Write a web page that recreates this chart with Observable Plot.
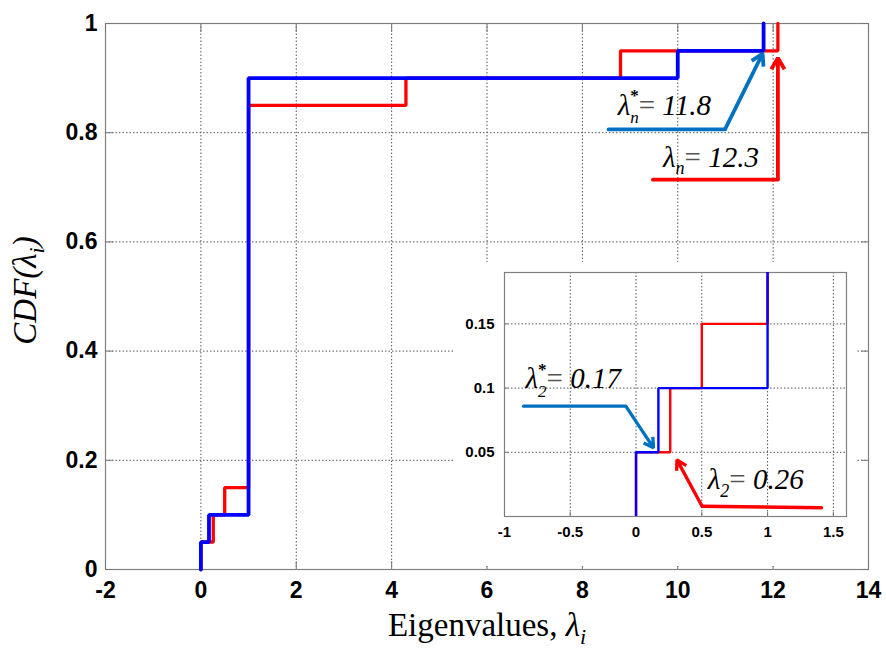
<!DOCTYPE html>
<html><head><meta charset="utf-8">
<script src="https://cdn.jsdelivr.net/npm/d3@7"></script>
<script src="https://cdn.jsdelivr.net/npm/@observablehq/plot@0.6"></script>
<style>
html,body{margin:0;padding:0;background:#fff;}
#wrap{position:relative;width:886px;height:658px;overflow:hidden;background:#fff;}
#inset{position:absolute;left:455px;top:262px;}
text{white-space:pre;}
</style></head><body>
<div id="wrap"><div id="main"></div><div id="inset"></div></div>
<script>
// ---- data ----
const blueX = [0, 0, 0.17, 1, 10, 11.8];
const blueY = [0, 0.05, 0.1, 0.9, 0.95, 1];
const redX = [0, 0, 0.26, 0.5, 1, 4.3, 8.8, 12.1];
const redY = [0, 0.05, 0.1, 0.15, 0.85, 0.9, 0.95, 1];
const xTicks = [-2, 0, 2, 4, 6, 8, 10, 12, 14];
const yTicks = [0, 0.2, 0.4, 0.6, 0.8, 1];
const insetXTicks = [-1, -0.5, 0, 0.5, 1, 1.5];
const insetYTicks = [0.05, 0.1, 0.15];
const xLabel = "Eigenvalues, λi";
const yLabel = "CDF(λi)";
// annotations in main-plot data units
const mainAnnLabels = ["λ*n= 11.8", "λn= 12.3"];
const mainAnnTextX = [8.74, 9.69];
const mainAnnTextY = [0.833, 0.738];
const mainAnnPathX = [[8.55, 10.99, 11.78], [9.48, 12.1, 12.1]];
const mainAnnPathY = [[0.806, 0.806, 0.945], [0.714, 0.714, 0.937]];
// annotations in inset data units
const insetAnnLabels = ["λ*2= 0.17", "λ2= 0.26"];
const insetAnnTextX = [-0.84, 0.545];
const insetAnnTextY = [0.0997, 0.0216];
const insetAnnPathX = [[-0.855, -0.078, 0.133], [1.41, 0.502, 0.311]];
const insetAnnPathY = [[0.0859, 0.0859, 0.0535], [0.0068, 0.008, 0.0441]];

// ---- styling ----
const BLUE = "#0000FF", RED = "#FF0000";
const ANN_COLORS = ["#0070C0", "#FF0000"];
const SERIF = "Liberation Serif, Times New Roman, serif";
const SANS = "Liberation Sans, Arial, sans-serif";
const fmt = d => String(d);
const pts = (xs, ys) => xs.map((x, i) => ({x, y: ys[i]}));
const gridStyle = {stroke: "#555", strokeOpacity: 1, strokeWidth: 1, strokeDasharray: "1.5,2"};
const ANN_F = 29;

function annMarks(labels, tx, ty, px, py, fontSize, sw, head) {
  const marks = [];
  labels.forEach((lab, i) => {
    const p = pts(px[i], py[i]);
    marks.push(Plot.line(p.slice(0, 2), {x: "x", y: "y", stroke: ANN_COLORS[i], strokeWidth: sw, strokeLinejoin: "miter"}));
    marks.push(Plot.arrow([{x1: p[1].x, y1: p[1].y, x2: p[2].x, y2: p[2].y}],
      {x1: "x1", y1: "y1", x2: "x2", y2: "y2", stroke: ANN_COLORS[i], strokeWidth: sw, headLength: head, strokeLinecap: "butt", strokeLinejoin: "miter"}));
  });
  marks.push(Plot.text(labels.map((t, i) => ({t, x: tx[i], y: ty[i]})),
    {x: "x", y: "y", text: "t", textAnchor: "start", lineAnchor: "bottom",
     fontFamily: SERIF, fontStyle: "italic", fontSize, fill: "black"}));
  return marks;
}

const main = Plot.plot({
  width: 886, height: 658,
  marginLeft: 105, marginRight: 18, marginTop: 23, marginBottom: 89,
  x: {domain: [-2, 14]},
  y: {domain: [0, 1]},
  style: {fontFamily: SANS, background: "white", overflow: "visible"},
  marks: [
    Plot.gridX(xTicks, gridStyle),
    Plot.gridY(yTicks, gridStyle),
    Plot.frame({stroke: "#808080", strokeWidth: 1.2}),
    Plot.axisX(xTicks, {anchor: "bottom", tickSize: -8, tickPadding: 20, tickFormat: fmt, fontSize: 23, fontWeight: "bold", stroke: "#777", fill: "black"}),
    Plot.axisY(yTicks, {anchor: "left", tickSize: -8, tickPadding: 16, tickFormat: fmt, fontSize: 23, fontWeight: "bold", stroke: "#777", fill: "black"}),
    Plot.axisX(xTicks, {anchor: "top", tickSize: -8, tickFormat: () => "", stroke: "#777"}),
    Plot.axisY(yTicks, {anchor: "right", tickSize: -8, tickFormat: () => "", stroke: "#777"}),
    Plot.line(pts(redX, redY), {x: "x", y: "y", curve: "step-after", stroke: RED, strokeWidth: 3.3, strokeLinejoin: "miter"}),
    Plot.line(pts(blueX, blueY), {x: "x", y: "y", curve: "step-after", stroke: BLUE, strokeWidth: 3.8, strokeLinejoin: "miter"}),
    ...annMarks(mainAnnLabels, mainAnnTextX, mainAnnTextY, mainAnnPathX, mainAnnPathY, ANN_F, 3.8, 5.2),
    Plot.text([xLabel], {text: d => d, frameAnchor: "bottom", dy: 66, lineAnchor: "bottom", textAnchor: "middle", fontFamily: SERIF, fontSize: 33, fill: "black"}),
    Plot.text([yLabel], {text: d => d, frameAnchor: "left", dx: -70, dy: -6, rotate: -90, lineAnchor: "bottom", textAnchor: "middle", fontFamily: SERIF, fontStyle: "italic", fontSize: 33, fill: "black"})
  ]
});
document.getElementById("main").appendChild(main);

const inset = Plot.plot({
  width: 402, height: 304,
  marginLeft: 49, marginRight: 11, marginTop: 10, marginBottom: 50,
  x: {domain: [-1, 1.6]},
  y: {domain: [0, 0.19]},
  style: {fontFamily: SANS, background: "white", overflow: "visible"},
  marks: [
    Plot.gridX(insetXTicks, gridStyle),
    Plot.gridY(insetYTicks, gridStyle),
    Plot.frame({stroke: "#808080", strokeWidth: 1.2}),
    Plot.axisX(insetXTicks, {anchor: "bottom", tickSize: -4, tickPadding: 14, tickFormat: fmt, fontSize: 15, fontWeight: "bold", stroke: "#777", fill: "black"}),
    Plot.axisY(insetYTicks, {anchor: "left", tickSize: -4, tickPadding: 14, tickFormat: fmt, fontSize: 15, fontWeight: "bold", stroke: "#777", fill: "black"}),
    Plot.line(pts(redX, redY), {x: "x", y: "y", curve: "step-after", stroke: RED, strokeWidth: 2.4, clip: true, strokeLinejoin: "miter"}),
    Plot.line(pts(blueX, blueY), {x: "x", y: "y", curve: "step-after", stroke: BLUE, strokeWidth: 2.4, clip: true, strokeLinejoin: "miter"}),
    ...annMarks(insetAnnLabels, insetAnnTextX, insetAnnTextY, insetAnnPathX, insetAnnPathY, ANN_F, 3.3, 5)
  ]
});
document.getElementById("inset").appendChild(inset);

// ---- rich text (sub/superscripts) ----
function specStar(sub, F) {
  const s = Math.round(F * 0.6);
  return [
    {t: "λ"},
    {t: "*", size: s, dy: -0.46 * F, style: "normal", weight: "bold"},
    {t: sub, size: s, dx: -0.5 * s, dy: 0.46 * F + 0.3 * F},
    {t: "=", dy: -0.3 * F, fill: "#555", style: "normal"}
  ];
}
function specSub(sub, F) {
  const s = Math.round(F * 0.62);
  return [
    {t: "λ"},
    {t: sub, size: s, dy: 0.27 * F},
    {t: "=", dy: -0.27 * F, fill: "#555", style: "normal"}
  ];
}
const specs = {};
specs[mainAnnLabels[0]] = [...specStar("n", ANN_F), {t: " 11.8"}];
specs[mainAnnLabels[1]] = [...specSub("n", ANN_F), {t: " 12.3"}];
specs[insetAnnLabels[0]] = [...specStar("2", ANN_F), {t: " 0.17"}];
specs[insetAnnLabels[1]] = [...specSub("2", ANN_F), {t: " 0.26"}];
specs[xLabel] = [{t: "Eigenvalues, "}, {t: "λ", style: "italic"}, {t: "i", style: "italic", size: 22, dy: 8}];
specs[yLabel] = [{t: "CDF("}, {t: "λ"}, {t: "i", size: 22, dy: 8}, {t: ")", dy: -8}];

function richify(svg) {
  svg.querySelectorAll("text").forEach(el => {
    const s = specs[el.textContent];
    if (!s) return;
    el.textContent = "";
    for (const seg of s) {
      const ts = document.createElementNS("http://www.w3.org/2000/svg", "tspan");
      ts.textContent = seg.t;
      if (seg.dx) ts.setAttribute("dx", seg.dx);
      if (seg.dy) ts.setAttribute("dy", seg.dy);
      if (seg.size) ts.setAttribute("font-size", seg.size);
      if (seg.style) ts.setAttribute("font-style", seg.style);
      if (seg.weight) ts.setAttribute("font-weight", seg.weight);
      if (seg.fill) ts.setAttribute("fill", seg.fill);
      el.appendChild(ts);
    }
  });
}
richify(main);
richify(inset);
</script>
</body></html>
